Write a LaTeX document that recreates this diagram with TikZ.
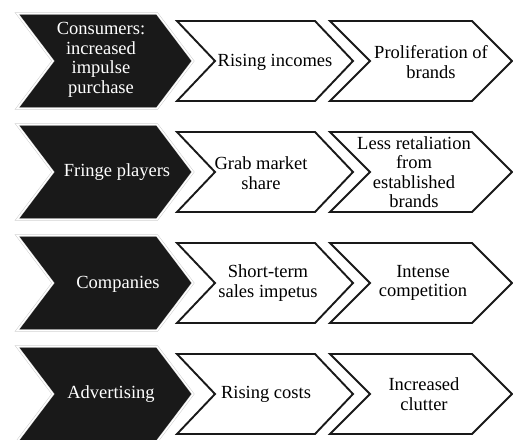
\documentclass[tikz,border=0pt]{standalone}
\usepackage{fontspec}
\setmainfont{Liberation Serif}

\tikzset{
  darkchev/.style={fill=black!90, draw=gray!40, line width=0.5pt, double=white, double distance=1.4pt, line join=miter},
  lightchev/.style={fill=white, draw=black!90, line width=1.9pt, line join=miter},
  darktext/.style={text=white, align=center, inner sep=0pt, font=\fontsize{18.5}{19.5}\selectfont},
  lighttext/.style={text=black, align=center, inner sep=0pt, font=\fontsize{18.5}{19.5}\selectfont},
}

\begin{document}
\begin{tikzpicture}[x=1pt,y=-1pt]
	\useasboundingbox (0,0) rectangle (513,439);
	% row 1
	\draw[darkchev] (17,13.5) -- (157,13.5) -- (193,61) -- (157,108.5) -- (17,108.5) -- (53,61) -- cycle;
	\draw[lightchev] (177,21) -- (315,21) -- (353,61) -- (315,101) -- (177,101) -- (215,61) -- cycle;
	\draw[lightchev] (330,21) -- (472,21) -- (512,61) -- (472,101) -- (330,101) -- (370,61) -- cycle;
	\node[darktext] (cons) at (101,60) {Consumers:\\increased\\impulse\\purchase};
	\node[lighttext] (rise) at (275,62) {Rising incomes};
	\node[lighttext] (prol) at (431,62) {Proliferation of\\brands};
	% row 2
	\draw[darkchev] (17,124.5) -- (157,124.5) -- (193,172) -- (157,219.5) -- (17,219.5) -- (53,172) -- cycle;
	\draw[lightchev] (177,132) -- (315,132) -- (353,172) -- (315,212) -- (177,212) -- (215,172) -- cycle;
	\draw[lightchev] (330,132) -- (472,132) -- (512,172) -- (472,212) -- (330,212) -- (370,172) -- cycle;
	\node[darktext] (fringe) at (117,172) {Fringe players};
	\node[lighttext] (grab) at (261,173) {Grab market\\share};
	\node[lighttext] (less) at (414,172) {Less retaliation\\from\\established\\brands};
	% row 3
	\draw[darkchev] (17,235.5) -- (157,235.5) -- (193,283) -- (157,330.5) -- (17,330.5) -- (53,283) -- cycle;
	\draw[lightchev] (177,243) -- (315,243) -- (353,283) -- (315,323) -- (177,323) -- (215,283) -- cycle;
	\draw[lightchev] (330,243) -- (472,243) -- (512,283) -- (472,323) -- (330,323) -- (370,283) -- cycle;
	\node[darktext] (comp) at (118,284) {Companies};
	\node[lighttext] (short) at (268,283) {Short-term\\sales impetus};
	\node[lighttext] (inten) at (423,283) {Intense\\competition};
	% row 4
	\draw[darkchev] (17,346.5) -- (157,346.5) -- (193,394) -- (157,441.5) -- (17,441.5) -- (53,394) -- cycle;
	\draw[lightchev] (177,354) -- (315,354) -- (353,394) -- (315,434) -- (177,434) -- (215,394) -- cycle;
	\draw[lightchev] (330,354) -- (472,354) -- (512,394) -- (472,434) -- (330,434) -- (370,394) -- cycle;
	\node[darktext] (adv) at (111,394) {Advertising};
	\node[lighttext] (cost) at (266,394) {Rising costs};
	\node[lighttext] (clut) at (424,394) {Increased\\clutter};
\end{tikzpicture}
\end{document}
